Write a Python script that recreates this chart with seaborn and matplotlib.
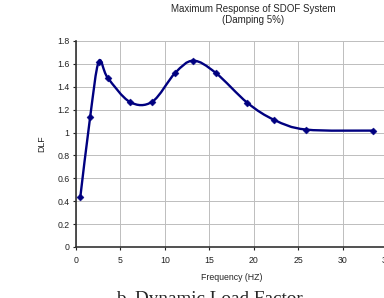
import numpy as np
import pandas as pd
import matplotlib.pyplot as plt
from matplotlib.path import Path
from matplotlib.patches import PathPatch
import seaborn as sns

# values
freq = [0.48, 1.59, 2.56, 3.56, 6.07, 8.59, 11.15, 13.19, 15.7, 19.3, 22.33, 25.9, 33.44]
dlf = [0.433, 1.134, 1.619, 1.48, 1.267, 1.27, 1.52, 1.628, 1.523, 1.259, 1.11, 1.026, 1.017]
x_ticks = [0, 5, 10, 15, 20, 25, 30, 35]
y_ticks = [0, 0.2, 0.4, 0.6, 0.8, 1, 1.2, 1.4, 1.6, 1.8]

df = pd.DataFrame({"Frequency": freq, "DLF": dlf})

sns.set_style("whitegrid")
plt.rcParams["font.family"] = ["Liberation Sans", "DejaVu Sans"]

fig = plt.figure(figsize=(3.84, 2.98), dpi=100)
ax = fig.add_axes([76 / 384, 1 - 247 / 298, (387 - 76) / 384, (247 - 41) / 298])

# Excel style smoothed line: Bezier segments through the points
pts = df[["Frequency", "DLF"]].to_numpy()
n = len(pts)
verts = [tuple(pts[0])]
codes = [Path.MOVETO]
for i in range(n - 1):
    p0 = pts[i - 1] if i > 0 else pts[i]
    p1 = pts[i]
    p2 = pts[i + 1]
    p3 = pts[i + 2] if i + 2 < n else pts[i + 1]
    c1 = p1 + (p2 - p0) / 6
    c2 = p2 - (p3 - p1) / 6
    verts += [tuple(c1), tuple(c2), tuple(p2)]
    codes += [Path.CURVE4] * 3
ax.add_patch(PathPatch(Path(verts, codes), facecolor="none", edgecolor="#000080", lw=1.7, zorder=3))

sns.scatterplot(data=df, x="Frequency", y="DLF", marker="D", s=13, color="#000080",
                edgecolor="#000080", ax=ax, zorder=4)

ax.set_xlim(0, 35)
ax.set_ylim(0, 1.8)
ax.set_xticks(x_ticks)
ax.set_yticks(y_ticks)
ax.set_xticklabels([str(v) for v in x_ticks])
ax.set_yticklabels(["0", "0.2", "0.4", "0.6", "0.8", "1", "1.2", "1.4", "1.6", "1.8"])
ax.tick_params(labelsize=6.3, length=2.5, width=0.8, pad=2, colors="#222222")
ax.tick_params(axis="x", pad=4)
ax.tick_params(axis="both", which="both", left=True, bottom=True)
ax.grid(color="#bdbdbd", lw=0.7)
for s in ["top", "right"]:
    ax.spines[s].set_visible(False)
for s in ["left", "bottom"]:
    ax.spines[s].set_color("#333333")
    ax.spines[s].set_linewidth(1.2)

ax.set_xlabel("Frequency (HZ)", fontsize=6.3, labelpad=6)
ax.set_ylabel("DLF", fontsize=6.3, labelpad=8)

fig.text(253 / 384, 1 - 9 / 298, "Maximum Response of SDOF System", ha="center", va="center", fontsize=7)
fig.text(253 / 384, 1 - 20 / 298, "(Damping 5%)", ha="center", va="center", fontsize=7)
fig.text(209 / 384, 1 - 291 / 298, "b. Dynamic Load Factor", ha="center", va="top",
         fontsize=13.8, family=["Liberation Serif", "DejaVu Serif"])

fig.savefig("out.png", dpi=100)
